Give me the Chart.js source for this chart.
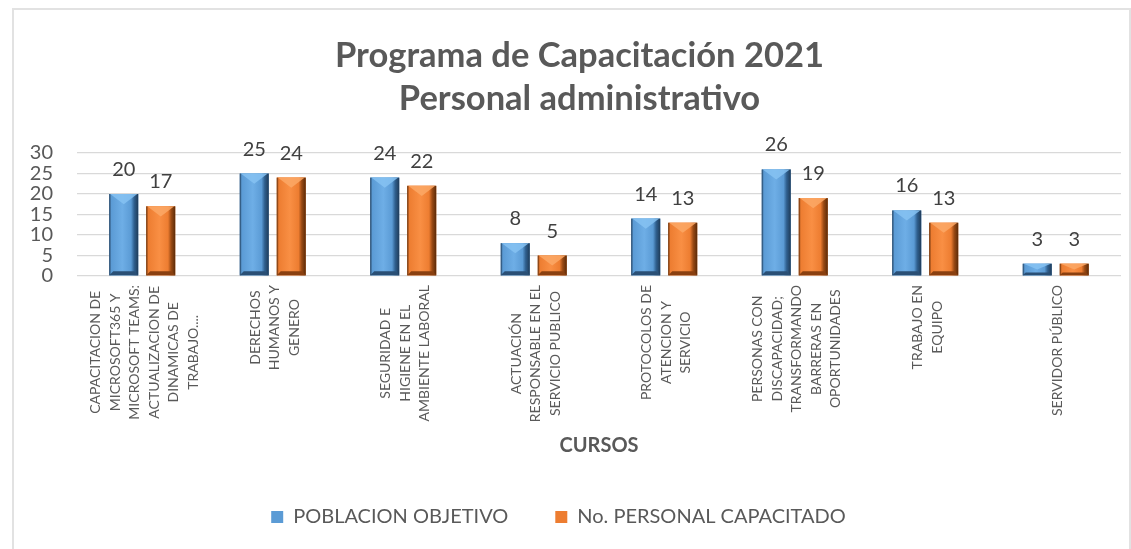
<!DOCTYPE html>
<html>
<head>
<meta charset="utf-8">
<script src="https://cdn.jsdelivr.net/npm/chart.js@4.4.0/dist/chart.umd.min.js"></script>
<style>
  html, body { margin: 0; padding: 0; background: #fff; }
  #frame { position: absolute; left: 12px; top: 8px; width: 1115px; height: 600px; border: 2px solid #e2e2e2; }
  #wrap { position: absolute; left: 0; top: 0; width: 1131px; height: 549px; }
</style>
</head>
<body>
<div id="frame"></div>
<div id="wrap"><canvas id="chart"></canvas></div>
<script>
// course names, one line per entry (as wrapped in the original)
const categories = [
  ['CAPACITACION DE', 'MICROSOFT365 Y', 'MICROSOFT TEAMS:', 'ACTUALIZACION DE', 'DINAMICAS DE', 'TRABAJO....'],
  ['DERECHOS', 'HUMANOS Y', 'GENERO'],
  ['SEGURIDAD E', 'HIGIENE EN EL', 'AMBIENTE LABORAL'],
  ['ACTUACIÓN', 'RESPONSABLE EN EL', 'SERVICIO PUBLICO'],
  ['PROTOCOLOS DE', 'ATENCION Y', 'SERVICIO'],
  ['PERSONAS CON', 'DISCAPACIDAD;', 'TRANSFORMANDO', 'BARRERAS EN', 'OPORTUNIDADES'],
  ['TRABAJO EN', 'EQUIPO'],
  ['SERVIDOR PÚBLICO']
];
const poblacionObjetivo = [20, 25, 24, 8, 14, 26, 16, 3];
const personalCapacitado = [17, 24, 22, 5, 13, 19, 13, 3];
const yTicks = [0, 5, 10, 15, 20, 25, 30];

const textColor = '#595959';
const fontFamily = 'Lato, "Open Sans", sans-serif';

const blue = { base: '#5b9bd5', light: '#6eaee6', dark: '#2f5f8e', edge: '#1f3b58', top: '#86c2f2', bottom: '#2a4f75' };
const orange = { base: '#ed7d31', light: '#f98f44', dark: '#9a4a14', edge: '#5a2a08', top: '#fba866', bottom: '#8a4010' };

// 3D-ish bevel over each bar
const bevelPlugin = {
  id: 'bevel',
  afterDatasetsDraw(chart) {
    const ctx = chart.ctx;
    chart.data.datasets.forEach((ds, i) => {
      const c = ds.bevel;
      chart.getDatasetMeta(i).data.forEach(bar => {
        const { x, y, base, width } = bar.getProps(['x', 'y', 'base', 'width'], true);
        const l = x - width / 2, r = x + width / 2, h = base - y;
        if (h <= 0) return;
        const g = ctx.createLinearGradient(l, 0, r, 0);
        g.addColorStop(0, c.edge);
        g.addColorStop(0.07, c.base);
        g.addColorStop(0.45, c.light);
        g.addColorStop(0.75, c.base);
        g.addColorStop(0.86, c.dark);
        g.addColorStop(1, c.edge);
        ctx.save();
        ctx.fillStyle = g;
        ctx.fillRect(l, y, width, h);
        const d = Math.min(width * 0.35, h * 0.5);
        ctx.beginPath();
        ctx.moveTo(l + 1, y); ctx.lineTo(r - 1, y); ctx.lineTo(x, y + d);
        ctx.closePath();
        ctx.fillStyle = c.top;
        ctx.globalAlpha = 0.85;
        ctx.fill();
        ctx.globalAlpha = 1;
        const e = Math.min(4, h * 0.25);
        ctx.beginPath();
        ctx.moveTo(l, base); ctx.lineTo(r, base); ctx.lineTo(r - e, base - e); ctx.lineTo(l + e, base - e);
        ctx.closePath();
        ctx.fillStyle = c.bottom;
        ctx.fill();
        ctx.restore();
      });
    });
  }
};

// value labels above bars
const valuePlugin = {
  id: 'values',
  afterDatasetsDraw(chart) {
    const ctx = chart.ctx;
    ctx.save();
    ctx.font = '20px ' + fontFamily;
    ctx.fillStyle = '#404040';
    ctx.textAlign = 'center';
    ctx.textBaseline = 'alphabetic';
    chart.data.datasets.forEach((ds, i) => {
      chart.getDatasetMeta(i).data.forEach((bar, j) => {
        ctx.fillText(String(ds.data[j]), bar.x, bar.y - 18);
      });
    });
    ctx.restore();
  }
};

// rotated category labels, lines centred inside each block
const xLabelPlugin = {
  id: 'xLabels',
  afterDraw(chart) {
    const ctx = chart.ctx;
    const xs = chart.scales.x;
    ctx.save();
    ctx.font = '14px ' + fontFamily;
    ctx.fillStyle = textColor;
    ctx.textAlign = 'center';
    ctx.textBaseline = 'middle';
    categories.forEach((lines, i) => {
      const cx = xs.getPixelForTick(i) + 2;
      const w = Math.max(...lines.map(s => ctx.measureText(s).width));
      const top = chart.chartArea.bottom + 9;
      ctx.save();
      ctx.translate(cx, top + w / 2);
      ctx.rotate(-Math.PI / 2);
      lines.forEach((s, k) => ctx.fillText(s, 0, (k - (lines.length - 1) / 2) * 19.5));
      ctx.restore();
    });
    ctx.restore();
  }
};

// nudge title and legend horizontally to where they sit in the original
const nudgePlugin = {
  id: 'nudge',
  afterLayout(chart) {
    chart.titleBlock.left += 24;
    chart.legend.left -= 9;
    chart.legend.right -= 9;
  }
};

const ctx = document.getElementById('chart').getContext('2d');
const chart = new Chart(ctx, {
  type: 'bar',
  data: {
    labels: categories,
    datasets: [
      {
        label: 'POBLACION OBJETIVO',
        data: poblacionObjetivo,
        backgroundColor: blue.base,
        borderWidth: 0,
        bevel: blue,
        categoryPercentage: 0.567,
        barPercentage: 0.784
      },
      {
        label: 'No. PERSONAL CAPACITADO',
        data: personalCapacitado,
        backgroundColor: orange.base,
        borderWidth: 0,
        bevel: orange,
        categoryPercentage: 0.567,
        barPercentage: 0.784
      }
    ]
  },
  options: {
    responsive: true,
    maintainAspectRatio: false,
    animation: false,
    layout: { padding: { left: 14, right: 10, top: 0, bottom: 12 } },
    plugins: {
      title: {
        display: true,
        text: ['Programa de Capacitación 2021', 'Personal administrativo'],
        color: textColor,
        font: { family: fontFamily, size: 34.5, weight: 'bold', lineHeight: 43 / 34.5 },
        padding: { top: 34, bottom: 33 }
      },
      legend: {
        position: 'bottom',
        labels: {
          color: textColor,
          font: { family: fontFamily, size: 20 },
          boxWidth: 12,
          boxHeight: 12,
          padding: 47
        }
      },
      tooltip: { enabled: false }
    },
    scales: {
      x: {
        ticks: { display: false },
        grid: { display: false },
        border: { display: false },
        title: {
          display: true,
          text: 'CURSOS',
          color: textColor,
          font: { family: fontFamily, size: 20, weight: 'bold' },
          padding: { top: 0, bottom: 2 }
        },
        afterFit(scale) { scale.height = 184; }
      },
      y: {
        min: 0,
        max: 30,
        afterBuildTicks(scale) { scale.ticks = yTicks.map(v => ({ value: v })); },
        ticks: {
          color: textColor,
          font: { family: fontFamily, size: 20 },
          padding: 24,
          autoSkip: false
        },
        grid: { color: '#d9d9d9', lineWidth: 1.3, drawTicks: false },
        border: { display: false },
        afterFit(scale) { scale.width = 63; }
      }
    }
  },
  plugins: [bevelPlugin, valuePlugin, xLabelPlugin, nudgePlugin]
});
</script>
</body>
</html>
